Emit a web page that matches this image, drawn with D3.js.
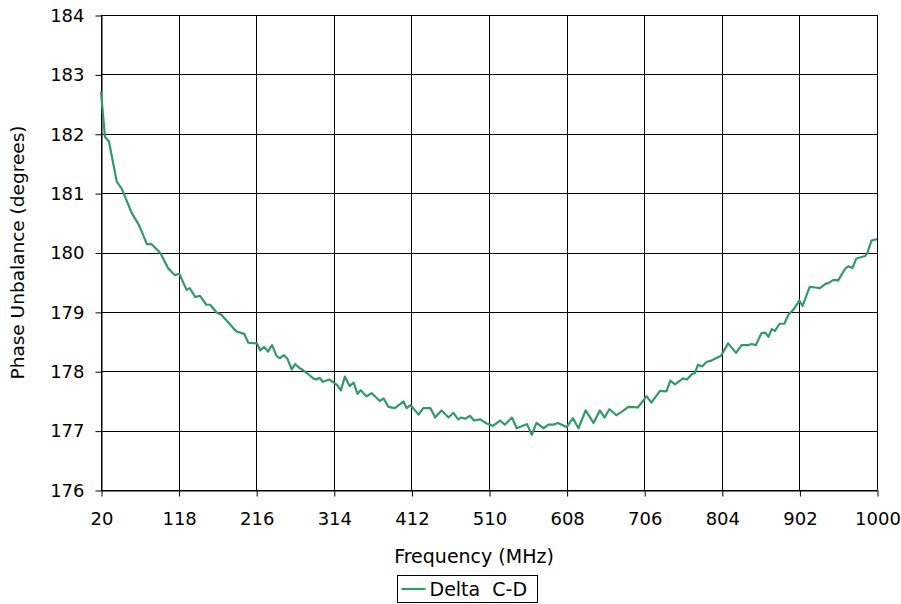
<!DOCTYPE html>
<html>
<head>
<meta charset="utf-8">
<script src="https://cdn.jsdelivr.net/npm/d3@7"></script>
<style>
  body { margin: 0; background: #fff; }
  svg text { font-family: "DejaVu Sans", Verdana, sans-serif; fill: #000; }
</style>
</head>
<body>
<svg width="901" height="604"></svg>
<script>
// données
const freqs = [20, 25, 30, 40, 46, 59, 68, 78, 84, 95, 105, 113, 119, 128, 132, 139, 145, 153, 158, 166,
  172, 191, 201, 206, 217, 221, 226, 231, 236, 242, 246, 251, 255, 261, 265, 271, 275, 280, 288, 292,
  296, 300, 308, 313, 318, 323, 328, 334, 339, 344, 348, 355, 362, 372, 377, 383, 391, 402, 406, 411,
  421, 427, 436, 442, 450, 459, 465, 471, 475, 480, 486, 491, 499, 507, 515, 524, 530, 539, 545, 558,
  564, 570, 579, 585, 591, 597, 608, 616, 623, 632, 642, 650, 656, 662, 671, 678, 686, 698, 709, 715,
  726, 734, 739, 745, 755, 760, 766, 770, 774, 779, 785, 791, 803, 812, 822, 829, 837, 842, 847, 854,
  859, 863, 867, 871, 877, 883, 888, 894, 902, 906, 915, 922, 928, 936, 938, 945, 951, 960, 964, 969,
  974, 985, 988, 993, 998, 1000];
const deltaCD = [182.71, 181.95, 181.87, 181.19, 181.08, 180.66, 180.46, 180.14, 180.14, 179.99, 179.73, 179.62, 179.64, 179.37, 179.40, 179.25, 179.27, 179.12, 179.12, 178.99,
  178.95, 178.67, 178.63, 178.48, 178.47, 178.35, 178.41, 178.33, 178.44, 178.25, 178.22, 178.27, 178.22, 178.03, 178.12, 178.05, 178.02, 177.97, 177.88, 177.86,
  177.89, 177.82, 177.86, 177.82, 177.77, 177.68, 177.91, 177.75, 177.81, 177.62, 177.68, 177.58, 177.63, 177.50, 177.54, 177.40, 177.38, 177.49, 177.38, 177.43,
  177.27, 177.38, 177.38, 177.22, 177.34, 177.22, 177.30, 177.19, 177.22, 177.20, 177.25, 177.17, 177.19, 177.12, 177.08, 177.17, 177.10, 177.22, 177.04, 177.11,
  176.93, 177.13, 177.04, 177.10, 177.10, 177.13, 177.06, 177.21, 177.04, 177.34, 177.13, 177.34, 177.22, 177.36, 177.26, 177.32, 177.40, 177.39, 177.58, 177.47,
  177.67, 177.66, 177.84, 177.78, 177.88, 177.86, 177.95, 177.97, 178.11, 178.08, 178.16, 178.18, 178.26, 178.47, 178.31, 178.44, 178.44, 178.46, 178.44, 178.64,
  178.65, 178.58, 178.71, 178.68, 178.80, 178.80, 178.95, 179.03, 179.19, 179.10, 179.42, 179.41, 179.40, 179.48, 179.48, 179.54, 179.53, 179.73, 179.77, 179.74,
  179.90, 179.94, 180.00, 180.20, 180.22, 180.22];
const xTicks = [20, 118, 216, 314, 412, 510, 608, 706, 804, 902, 1000];
const yTicks = [176, 177, 178, 179, 180, 181, 182, 183, 184];
const seriesName = "Delta  C-D";

const svg = d3.select("svg"),
      margin = { top: 15, right: 24, bottom: 114, left: 101 },
      width = 901 - margin.left - margin.right,
      height = 604 - margin.top - margin.bottom;

const x = d3.scaleLinear().domain([20, 1000]).range([0, width]);
const y = d3.scaleLinear().domain([176, 184]).range([height, 0]);

const g = svg.append("g")
    .attr("transform", `translate(${margin.left},${margin.top})`);

// grille
g.selectAll(".vgrid").data(xTicks).enter().append("line")
    .attr("x1", d => Math.round(x(d)) + 0.5).attr("x2", d => Math.round(x(d)) + 0.5)
    .attr("y1", 0).attr("y2", height)
    .attr("stroke", "#000").attr("stroke-width", 1);
g.selectAll(".hgrid").data(yTicks).enter().append("line")
    .attr("y1", d => Math.round(y(d)) + 0.5).attr("y2", d => Math.round(y(d)) + 0.5)
    .attr("x1", 0).attr("x2", width)
    .attr("stroke", "#000").attr("stroke-width", 1);

// axes
const xAxis = g.append("g")
    .attr("transform", `translate(0.5,${height + 0.5})`)
    .call(d3.axisBottom(x).tickValues(xTicks).tickFormat(d3.format("d"))
        .tickSize(6).tickPadding(16).tickSizeOuter(0));
const yAxis = g.append("g")
    .attr("transform", "translate(0.5,0.5)")
    .call(d3.axisLeft(y).tickValues(yTicks).tickFormat(d3.format("d"))
        .tickSize(6).tickPadding(11).tickSizeOuter(0));

[xAxis, yAxis].forEach(a => {
    a.selectAll("path, line").attr("stroke", "#000");
    a.selectAll("text").style("font-size", "18px").attr("fill", "#000");
});

// courbe
const line = d3.line()
    .x((d, i) => x(freqs[i]))
    .y(d => y(d));

g.append("path")
    .datum(deltaCD)
    .attr("fill", "none")
    .attr("stroke", "#339966")
    .attr("stroke-width", 2.2)
    .attr("stroke-linejoin", "round")
    .attr("d", line);

// titres des axes
svg.append("text")
    .attr("x", 474)
    .attr("y", 563)
    .attr("text-anchor", "middle")
    .style("font-size", "19px")
    .text("Frequency (MHz)");

svg.append("text")
    .attr("transform", `translate(24,${margin.top + height / 2}) rotate(-90)`)
    .attr("text-anchor", "middle")
    .style("font-size", "18.5px")
    .text("Phase Unbalance (degrees)");

// légende
const legend = svg.append("g").attr("transform", "translate(397.5,575.5)");
legend.append("rect")
    .attr("width", 140).attr("height", 27)
    .attr("fill", "#fff").attr("stroke", "#000");
legend.append("line")
    .attr("x1", 4).attr("x2", 28).attr("y1", 13.5).attr("y2", 13.5)
    .attr("stroke", "#339966").attr("stroke-width", 2.2);
legend.append("text")
    .attr("x", 32).attr("y", 20)
    .style("font-size", "19px")
    .style("white-space", "pre")
    .text(seriesName);
</script>
</body>
</html>
